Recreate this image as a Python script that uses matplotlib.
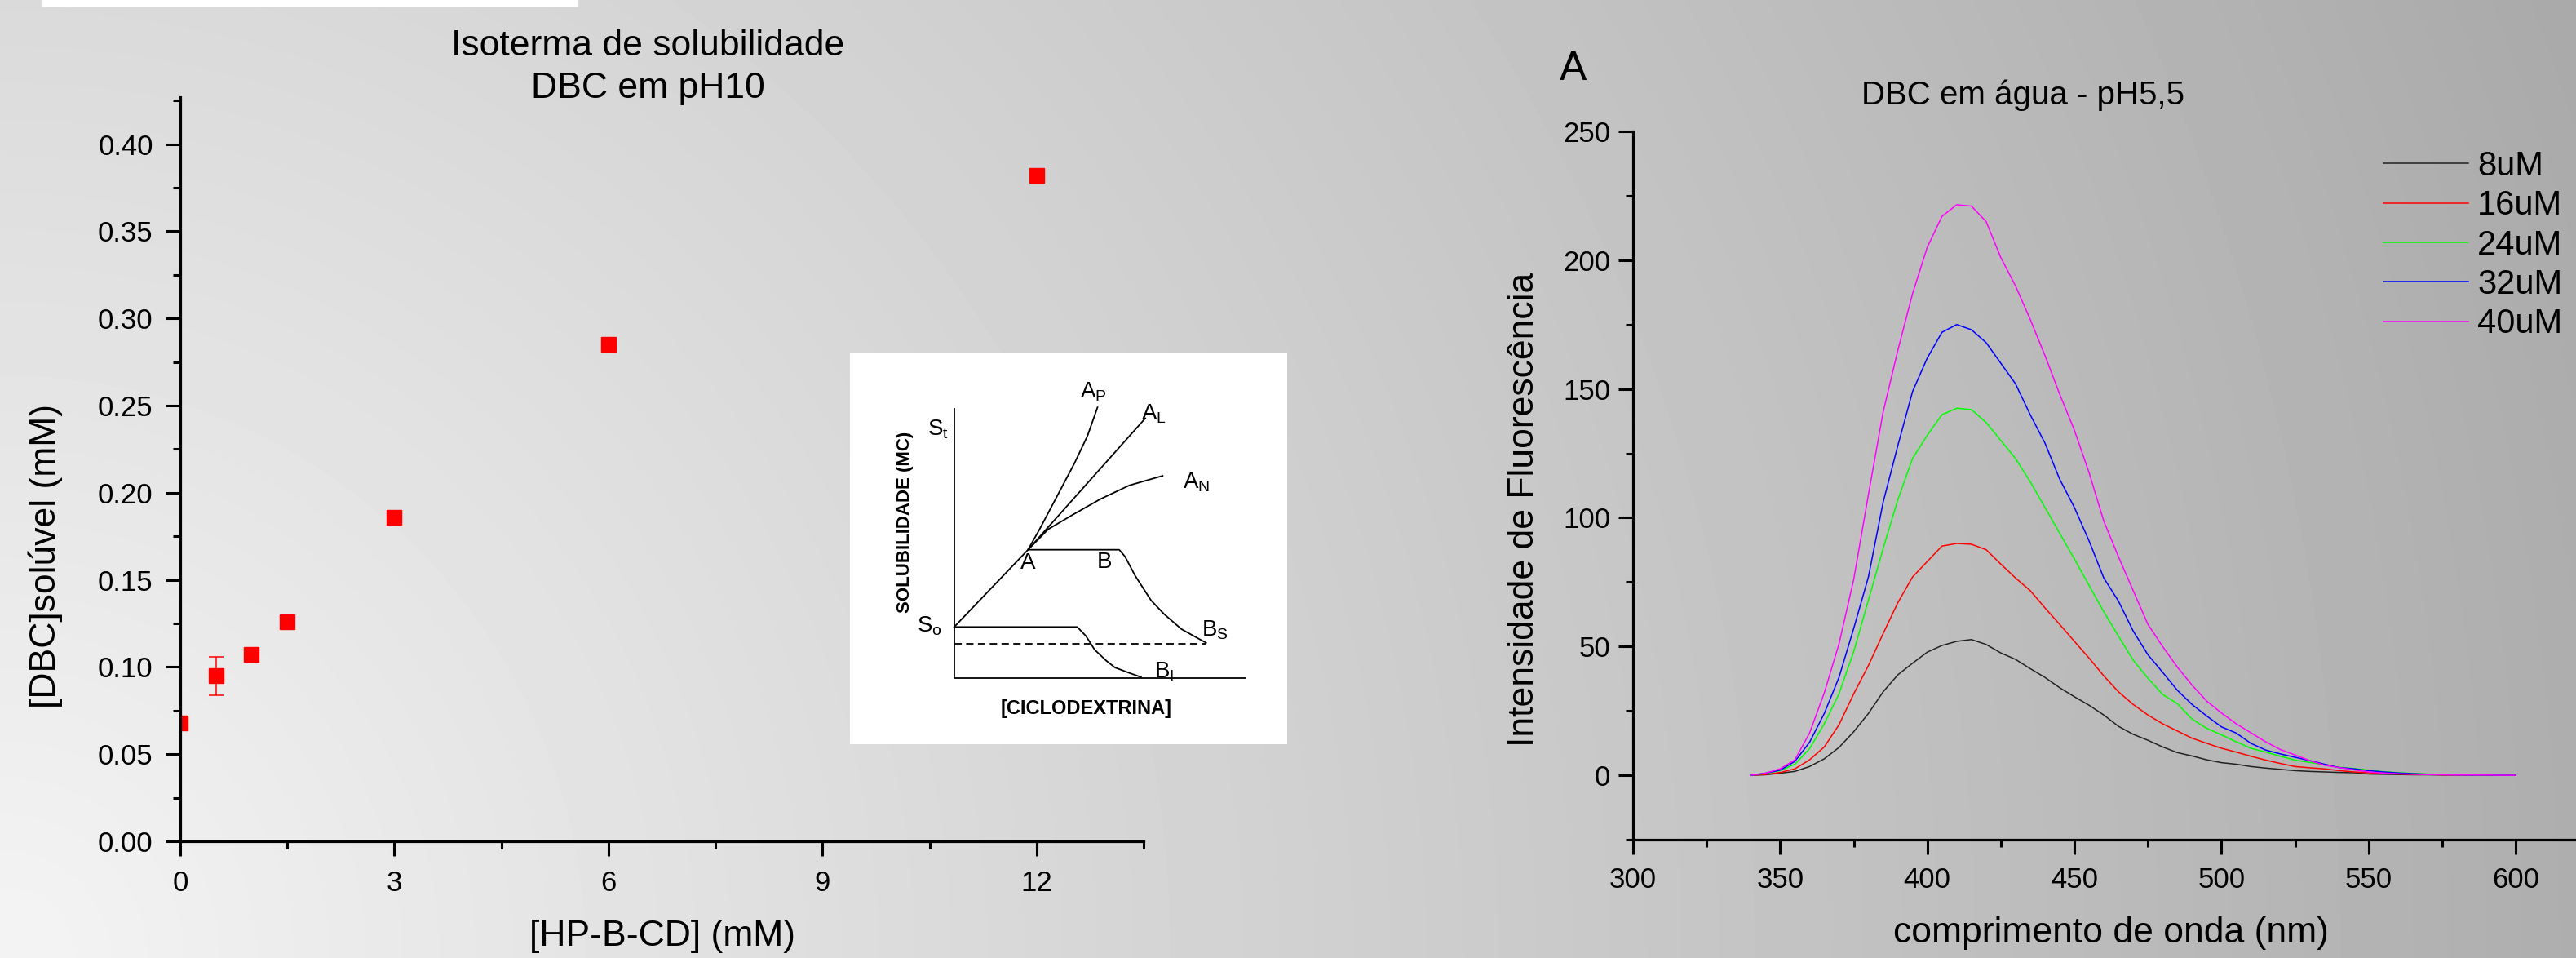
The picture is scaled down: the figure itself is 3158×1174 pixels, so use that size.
import numpy as np
import matplotlib.pyplot as plt
from matplotlib.patches import Rectangle
from matplotlib.ticker import MultipleLocator, FormatStrFormatter

plt.rcParams['font.family'] = ['Liberation Sans', 'DejaVu Sans']
plt.rcParams['mathtext.fontset'] = 'custom'
plt.rcParams['mathtext.rm'] = 'Liberation Sans'
plt.rcParams['mathtext.it'] = 'Liberation Sans'

# solubility isotherm (left panel)
hp_cd = [0, 0.5, 1, 1.5, 3, 6, 12]
dbc_sol = [0.068, 0.095, 0.107, 0.126, 0.186, 0.285, 0.382]
dbc_err = [0.002, 0.011, 0.002, 0.002, 0.003, 0.003, 0.002]

# fluorescence spectra (right panel)
wavelength = np.arange(340, 605, 5)
conc_labels = ['8uM', '16uM', '24uM', '32uM', '40uM']
fl_8 = [0, 0.2, 0.8, 1.5, 3.4, 6.4, 10.8, 16.9, 24, 32.4, 39, 43.5, 47.8, 50.4, 52, 52.7,
        50.8, 47.5, 45, 41.4, 38, 34, 30.5, 27.2, 23.4, 19, 15.9, 13.6, 11, 8.8, 7.5, 6,
        4.9, 4.3, 3.4, 2.8, 2.3, 1.8, 1.5, 1.3, 1.1, 1.0, 0.5, 0.4, 0.3, 0.2, 0.2, 0.1,
        0.1, 0.1, 0, 0, 0]
fl_16 = [0, 0.3, 1.1, 2.5, 6, 11, 19.6, 31.6, 42.6, 55, 67, 77, 83, 89, 90, 89.7, 87.6,
         82, 76.6, 71.7, 65, 58.6, 52, 45.5, 38.6, 32.4, 27.5, 23.4, 20, 17.2, 14.4, 12.4,
         10.5, 9, 7.4, 5.9, 4.6, 3.4, 2.9, 2.5, 1.8, 1.3, 1.0, 0.7, 0.5, 0.4, 0.3, 0.2,
         0.1, 0.1, 0, 0, 0]
fl_24 = [0, 0.7, 1.8, 4.3, 10.3, 20, 31.6, 48, 68, 88, 107, 123, 132, 140, 142.5, 142,
         137, 130, 123, 114, 104, 94, 84, 73.7, 63.5, 54, 44.7, 37.7, 31.4, 27.8, 21.8,
         18.2, 15.7, 13, 10.5, 9, 7.4, 5.9, 5, 4.1, 3.1, 2.6, 2.0, 1.4, 1.0, 0.7, 0.5,
         0.3, 0.2, 0.1, 0.1, 0, 0]
fl_32 = [0, 0.8, 2, 5.4, 12.8, 24, 38, 57, 77, 106, 128, 149, 162, 172, 175, 173, 168,
         160, 152, 140, 129, 115, 104, 91, 76.6, 67.6, 56, 46.8, 40, 33, 27.5, 23, 18.8,
         16.4, 12.4, 9.8, 8.3, 7, 5.7, 4.3, 3, 2.5, 1.8, 1.3, 0.9, 0.6, 0.4, 0.3, 0.2,
         0.1, 0.1, 0, 0]
fl_40 = [0, 0.8, 2.5, 6, 16.4, 32, 51, 76, 109, 141, 165, 187, 205, 217, 221.5, 221, 215,
         201, 190, 177, 163, 148, 134, 117.5, 98.7, 84.8, 71.7, 58.6, 50, 42, 35, 28.8,
         24.2, 20, 16.5, 13, 10, 7.9, 5.7, 3.9, 3, 2.1, 1.3, 0.9, 0.6, 0.4, 0.3, 0.2, 0.1,
         0.1, 0.1, 0, 0]
spectra = [fl_8, fl_16, fl_24, fl_32, fl_40]
spec_colors = ['#222222', '#ff0000', '#00ff00', '#0000ff', '#ff00ff']

# schematic phase-solubility diagram (inset), in arbitrary units
sch_frame_u = [0, 0, 10.05]
sch_frame_v = [9.85, 0, 0]
sch_rise_u = [0, 2.55]
sch_rise_v = [1.88, 4.70]
sch_bs_u = [2.55, 5.70, 5.90, 6.25, 6.80, 7.25, 7.85, 8.70]
sch_bs_v = [4.70, 4.70, 4.45, 3.75, 2.85, 2.35, 1.80, 1.30]
sch_ap_u = [2.55, 2.95, 3.40, 4.15, 4.60, 4.95]
sch_ap_v = [4.70, 5.45, 6.35, 7.85, 8.85, 9.90]
sch_al_u = [2.55, 6.60]
sch_al_v = [4.70, 9.50]
sch_an_u = [2.55, 3.25, 4.05, 5.05, 6.05, 7.20]
sch_an_v = [4.70, 5.45, 5.95, 6.55, 7.05, 7.40]
sch_bi_u = [0, 4.25, 4.55, 4.85, 5.25, 5.55, 6.05, 6.45]
sch_bi_v = [1.88, 1.88, 1.55, 1.05, 0.65, 0.40, 0.20, 0.05]
sch_dash_u = [0, 8.70]
sch_dash_v = [1.27, 1.27]

W, H = 3158, 1174
fig = plt.figure(figsize=(W / 100, H / 100), dpi=100)


def fx(px):
    return px / W


def fy(py):
    return 1 - py / H


# gray gradient background, lighter toward bottom-left
bg = fig.add_axes([0, 0, 1, 1], zorder=-10)
yy, xx = np.mgrid[0:H:6, 0:W:6]
shade = np.clip(244 - 0.0222 * np.hypot(xx, H - yy), 0, 255) / 255
bg.imshow(shade, cmap='gray', vmin=0, vmax=1, extent=[0, W, H, 0],
          aspect='auto', interpolation='bilinear')
bg.add_patch(Rectangle((51, 0), 657, 7, color='white'))
bg.set_xlim(0, W)
bg.set_ylim(H, 0)
bg.axis('off')


def style_axes(ax):
    for s in ['top', 'right']:
        ax.spines[s].set_visible(False)
    for s in ['left', 'bottom']:
        ax.spines[s].set_linewidth(2.3)
    ax.patch.set_alpha(0)
    ax.tick_params(which='major', direction='out', length=13, width=2.2, labelsize=25)
    ax.tick_params(which='minor', direction='out', length=6.5, width=2.2)


# ---- left panel
ax1 = fig.add_axes([fx(221), fy(1031), fx(1402) - fx(221), (1031 - 119) / H])
style_axes(ax1)
ax1.errorbar(hp_cd, dbc_sol, yerr=dbc_err, fmt='s', color='red', ms=12.5,
             ecolor='red', elinewidth=1.1, capsize=6.5, capthick=1.1)
ax1.set_xlim(0, 13.5)
ax1.set_ylim(0, 0.427)
ax1.xaxis.set_major_locator(MultipleLocator(3))
ax1.xaxis.set_minor_locator(MultipleLocator(1.5))
ax1.yaxis.set_major_locator(MultipleLocator(0.05))
ax1.yaxis.set_minor_locator(MultipleLocator(0.025))
ax1.yaxis.set_major_formatter(FormatStrFormatter('%.2f'))
ax1.tick_params(axis='x', which='major', pad=12)
ax1.tick_params(axis='y', which='major', pad=11)

fig.text(fx(794), fy(68), 'Isoterma de solubilidade', fontsize=32, ha='center', va='baseline')
fig.text(fx(794), fy(120), 'DBC em pH10', fontsize=32, ha='center', va='baseline')
fig.text(fx(56), fy(682), '[DBC]solúvel (mM)', fontsize=32, rotation=90, ha='center', va='center')
fig.text(fx(812), fy(1148), '[HP-B-CD] (mM)', fontsize=32, ha='center', va='center')

# ---- inset schematic
ins = fig.add_axes([fx(1042), fy(912), (1578 - 1042) / W, (912 - 432) / H])
ins.set_facecolor('white')
for s in ins.spines.values():
    s.set_visible(False)
ins.set_xticks([])
ins.set_yticks([])
ins.set_xlim(-3.6, 11.5)
ins.set_ylim(-2.4, 11.9)
for u, v in [(sch_frame_u, sch_frame_v), (sch_rise_u, sch_rise_v), (sch_bs_u, sch_bs_v),
             (sch_ap_u, sch_ap_v), (sch_al_u, sch_al_v), (sch_an_u, sch_an_v),
             (sch_bi_u, sch_bi_v)]:
    ins.plot(u, v, color='black', lw=1.3)
ins.plot(sch_dash_u, sch_dash_v, color='black', lw=1.3, ls=(0, (5, 3)))
lab = dict(fontsize=20, ha='center', va='center')
ins.text(4.8, 10.45, r'A$_\mathrm{P}$', **lab)
ins.text(6.9, 9.65, r'A$_\mathrm{L}$', **lab)
ins.text(8.35, 7.15, r'A$_\mathrm{N}$', **lab)
ins.text(2.55, 4.2, 'A', **lab)
ins.text(5.2, 4.25, 'B', **lab)
ins.text(9.0, 1.75, r'B$_\mathrm{S}$', **lab)
ins.text(7.25, 0.25, r'B$_\mathrm{I}$', **lab)
ins.text(-0.55, 9.1, r'S$_\mathrm{t}$', **lab)
ins.text(-0.85, 1.9, r'S$_\mathrm{o}$', **lab)
ins.text(-1.7, 5.7, 'SOLUBILIDADE (MC)', fontsize=16, fontweight='bold',
         rotation=90, ha='center', va='center')
ins.text(4.55, -1.1, '[CICLODEXTRINA]', fontsize=17, fontweight='bold',
         ha='center', va='center')

# ---- right panel
ax2 = fig.add_axes([fx(2002), fy(1029), 1 - fx(2002), (1029 - 161) / H])
style_axes(ax2)
for vals, col, lbl in zip(spectra, spec_colors, conc_labels):
    ax2.plot(wavelength, vals, color=col, lw=1.1, label=lbl)
ax2.set_xlim(300, 620.5)
ax2.set_ylim(-25, 250)
ax2.xaxis.set_major_locator(MultipleLocator(50))
ax2.xaxis.set_minor_locator(MultipleLocator(25))
ax2.yaxis.set_major_locator(MultipleLocator(50))
ax2.yaxis.set_minor_locator(MultipleLocator(25))
ax2.tick_params(axis='x', which='major', pad=11)
ax2.tick_params(axis='y', which='major', pad=7)
ax2.legend(loc='upper left', bbox_to_anchor=(fx(2922), fy(184)),
           bbox_transform=fig.transFigure, frameon=False, fontsize=30,
           handlelength=2.5, handletextpad=0.26, labelspacing=0.2,
           borderpad=0, borderaxespad=0)

fig.text(fx(1912), fy(98), 'A', fontsize=36, ha='left', va='baseline')
fig.text(fx(2480), fy(128), 'DBC em água - pH5,5', fontsize=29, ha='center', va='baseline')
fig.text(fx(1869), fy(624), 'Intensidade de Fluorescência', fontsize=32, rotation=90,
         ha='center', va='center')
fig.text(fx(2588), fy(1143), 'comprimento de onda (nm)', fontsize=32, ha='center', va='center')

fig.savefig('out.png', dpi=100)
